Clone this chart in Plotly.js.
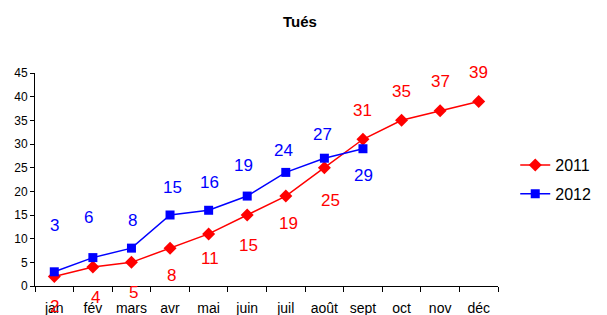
<!DOCTYPE html>
<html>
<head>
<meta charset="utf-8">
<script src="https://cdn.plot.ly/plotly-3.0.1.min.js"></script>
<style>html,body{margin:0;padding:0;background:#fff}#chart{width:607px;height:315px}</style>
</head>
<body>
<div id="chart"></div>
<script>
const months = ["jan","fév","mars","avr","mai","juin","juil","août","sept","oct","nov","déc"];
const deaths2011 = [2,4,5,8,11,15,19,25,31,35,37,39];
const deaths2012 = [3,6,8,15,16,19,24,27,29];
const yTicks = [0,5,10,15,20,25,30,35,40,45];
// label offsets in pixels (style only)
const shift2011 = [-30,-30,-30,-27,-25,-30,-27,-33,29,29,29,29];
const shift2012 = [46,40,28,28,28,31,22,24,-27];
const xshift2011 = [0,3,2,1,1,1,3,6,0,0,0,0];
const xshift2012 = [0,-4,1,2,1,-4,-2,-2,1];

const red = "#ff0000", blue = "#0000ff";
const traces = [
  {x: months, y: deaths2011, name: "2011", type: "scatter", mode: "lines+markers", legendgroup: "a",
   line: {color: red, width: 1.5}, marker: {symbol: "diamond", size: 10, color: red}},
  {x: months.slice(0, deaths2012.length), y: deaths2012, name: "2012", type: "scatter", mode: "lines+markers", legendgroup: "b",
   line: {color: blue, width: 1.5}, marker: {symbol: "square", size: 9, color: blue}}
];
const annotations = [];
deaths2011.forEach((v, i) => annotations.push({x: months[i], y: v, xref: "x", yref: "y", text: String(v),
  showarrow: false, yshift: shift2011[i], xshift: xshift2011[i], font: {family: "Liberation Sans, Arial", size: 17, color: red}}));
deaths2012.forEach((v, i) => annotations.push({x: months[i], y: v, xref: "x", yref: "y", text: String(v),
  showarrow: false, yshift: shift2012[i], xshift: xshift2012[i], font: {family: "Liberation Sans, Arial", size: 17, color: blue}}));

const layout = {
  width: 607, height: 315,
  margin: {l: 35, r: 108, t: 73, b: 29},
  paper_bgcolor: "#fff", plot_bgcolor: "#fff",
  font: {family: "Liberation Sans, Arial", color: "#000"},
  title: {text: "<b>Tués</b>", x: 300/607, xanchor: "center", y: 1 - 22/315, yanchor: "middle",
          font: {family: "Liberation Sans, Arial", size: 15, color: "#000"}},
  xaxis: {type: "category", categoryorder: "array", categoryarray: months, range: [-0.5, 11.5],
          showline: true, linecolor: "#000", linewidth: 1, showgrid: false, zeroline: false,
          ticks: "outside", tickson: "boundaries", ticklen: 5, tickcolor: "#000", tickangle: 0,
          ticklabelstandoff: 9, tickfont: {size: 14, color: "#000"}, fixedrange: true},
  yaxis: {range: [0, 45], tickvals: yTicks, showline: true, linecolor: "#000", linewidth: 1,
          showgrid: false, zeroline: false, ticks: "outside", ticklen: 4, tickcolor: "#000",
          tickfont: {size: 12, color: "#000"}, fixedrange: true},
  showlegend: true,
  legend: {x: 1.035, y: 0.5, xanchor: "left", yanchor: "middle", font: {size: 16, color: "#000"},
           traceorder: "grouped", tracegroupgap: 5,
           bgcolor: "rgba(0,0,0,0)", borderwidth: 0},
  annotations: annotations
};
Plotly.newPlot("chart", traces, layout, {staticPlot: true, displayModeBar: false});
</script>
</body>
</html>
